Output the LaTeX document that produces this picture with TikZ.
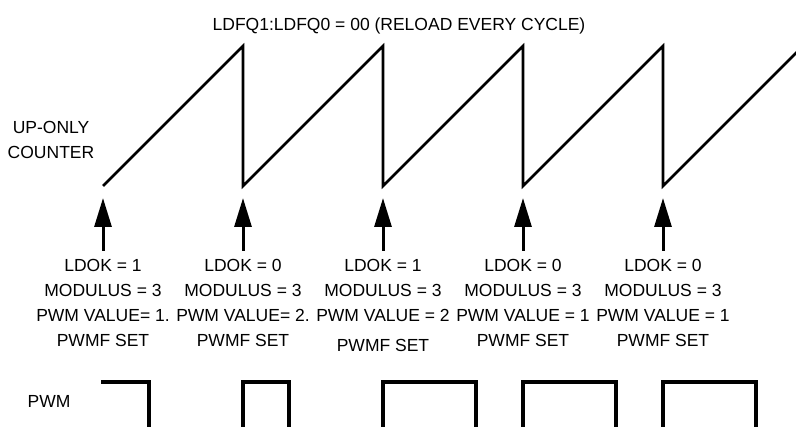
\documentclass[tikz,border=0pt]{standalone}
\usepackage{fontspec}
\setmainfont{Liberation Sans}
\usetikzlibrary{arrows.meta}
\begin{document}
\begin{tikzpicture}[x=1pt,y=-1pt,
  lbl/.style={inner sep=0pt,font=\fontsize{17.5}{25}\selectfont,align=center,anchor=base},
  wave/.style={line width=2.6pt,line join=miter},
  pwmline/.style={line width=3.2pt},
  arr/.style={line width=3pt,-{Triangle[length=29pt,width=17pt]}}]
\useasboundingbox (0,0) rectangle (796,427);
% title and labels
\node[lbl] (title) at (399,31) {LDFQ1:LDFQ0 = 00 (RELOAD EVERY CYCLE)};
\node[lbl] (upc) at (51,159) {UP-ONLY\\COUNTER};
\node[lbl] (pwm) at (49,408) {PWM};
% sawtooth
\draw[wave] (103,186) -- (243,46) -- (243,186) -- (383,46) -- (383,186)
  -- (523,46) -- (523,186) -- (663,46) -- (663,186) -- (797,52);
% column texts
\node[lbl] (c1) at (103,347) {LDOK = 1\\MODULUS = 3\\PWM VALUE= 1.\\PWMF SET};
\node[lbl] (c2) at (243,347) {LDOK = 0\\MODULUS = 3\\PWM VALUE= 2.\\PWMF SET};
\node[lbl] (c3) at (383,352) {LDOK = 1\\MODULUS = 3\\PWM VALUE = 2\\[5pt]PWMF SET};
\node[lbl] (c4) at (523,347) {LDOK = 0\\MODULUS = 3\\PWM VALUE = 1\\PWMF SET};
\node[lbl] (c5) at (663,347) {LDOK = 0\\MODULUS = 3\\PWM VALUE = 1\\PWMF SET};
% arrows
\foreach \i/\x in {1/103,2/243,3/383,4/523,5/663}{
  \coordinate (b\i) at (\x,251);
  \coordinate (t\i) at (\x,198);
  \draw[arr] (b\i) -- (t\i);
}
% PWM waveform
\draw[pwmline] (101,382) -- (149,382) -- (149,428);
\draw[pwmline] (243,428) -- (243,382) -- (289,382) -- (289,428);
\draw[pwmline] (383,428) -- (383,382) -- (476,382) -- (476,428);
\draw[pwmline] (523,428) -- (523,382) -- (616,382) -- (616,428);
\draw[pwmline] (663,428) -- (663,382) -- (756,382) -- (756,428);
\end{tikzpicture}
\end{document}
